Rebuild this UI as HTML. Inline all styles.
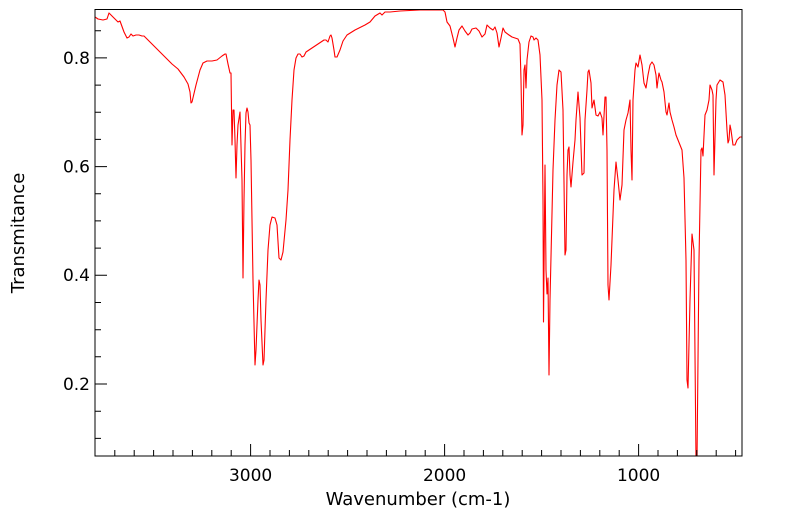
<!DOCTYPE html>
<html><head><style>body{margin:0;background:#fff}svg{display:block}</style></head><body>
<svg width="799" height="516" xmlns="http://www.w3.org/2000/svg" font-family="'DejaVu Sans','Liberation Sans',sans-serif">
<rect width="799" height="516" fill="#fff"/>
<defs><clipPath id="c"><rect x="95" y="9.5" width="647" height="446.5"/></clipPath></defs>
<polyline clip-path="url(#c)" fill="none" stroke="#ff0000" stroke-width="1.1" stroke-linejoin="round" points="95,17 98,19 103,20 107,19 109,13 112,16 118,22 120,21 124,32 127,38 129,37 131,34 133,36 136,35 139,35 142,36 144,36 148,40 155,47 165,57 172,64 178,69 184,77 188,84 190,92 191,103 192,102 196,85 200,70 203,63 207,61 212,61 217,60 222,56 225,54 226,54 228,64 230,73 231,73 232,145 233,110 234,110 235,140 236,178 237,145 238,125 240,112 242,180 243,278 244,200 245,145 246,113 247,108 248,112 249,123 250,125 251,160 253,280 255,365 256,350 258,300 259,280 260,285 261,320 263,365 264,360 266,300 268,250 270,225 272,217 275,218 277,225 279,258 281,260 283,252 286,220 288,190 290,140 292,100 294,70 296,58 298,54 300,54 302,57 304,56 306,52 309,50 312,48 318,44 324,40 326,40 328,42 330,36 331,35 332,38 334,50 335,57 337,57 340,50 343,41 347,35 355,30 365,25 370,22 375,16 380,13 382,15 385,12 390,12 400,11 420,10 437,10 443,10 445,12 447,22 450,26 453,38 455,47 457,38 459,30 462,26 465,31 468,35 470,33 472,29 476,28 479,31 482,37 485,34 487,25 490,28 493,30 495,27 497,33 499,47 501,38 503,28 505,32 509,35 512,37 515,38 518,39 520,44 521,80 522,135 523,125 524,70 525,65 526,88 527,60 529,42 531,36 533,37 534,40 536,38 538,40 540,55 542,100 543,200 543.5,322 544,270 545,165 546,270 547,294 548,278 549,375 550,300 553,170 555,120 557,85 559,70 561,72 563,110 565,255 566,250 567,175 568,150 569,147 570,175 571,187 573,162 575,140 576,120 578,92 580,118 582,175 584,173 585,120 587,90 588,72 589,70 591,83 592,108 594,100 596,115 598,116 600,112 602,118 603,135 605,97 606,97 607,150 608,285 609,300 611,265 614,190 616,162 618,180 620,200 622,185 624,130 626,120 628,113 630,100 631,150 632,180 633,100 635,70 636,63 638,67 640,55 642,65 644,83 646,88 648,75 650,65 652,62 654,65 656,75 657,88 658,80 659,73 661,80 662,82 664,92 666,112 667,115 669,103 670,112 672,120 674,127 676,135 678,140 680,145 682,150 684,178 686,260 687,380 688,388 690,300 692,234 694,250 696,460 697,460 699,260 701,150 702,148 703,156 705,115 707,110 709,100 710,85 712,90 713,95 714,175 716,100 717,85 720,80 723,82 725,95 727,130 728,143 729,140 730,125 731,130 733,145 735,145 737,140 740,137 742,137"/>
<rect x="95" y="9.5" width="647" height="446.5" fill="none" stroke="#000" stroke-width="1"/>
<path stroke="#000" stroke-width="1" fill="none" d="
M114.8 456v-6M134.2 456v-6M153.6 456v-6M173 456v-6M192.4 456v-6M211.8 456v-6M231.2 456v-6M250.6 456v-12M270 456v-6M289.4 456v-6M308.8 456v-6M328.2 456v-6M347.6 456v-6M367 456v-6M386.4 456v-6M405.8 456v-6M425.2 456v-6M444.6 456v-12M464 456v-6M483.4 456v-6M502.8 456v-6M522.2 456v-6M541.6 456v-6M561 456v-6M580.4 456v-6M599.8 456v-6M619.2 456v-6M638.6 456v-12M658 456v-6M677.4 456v-6M696.8 456v-6M716.2 456v-6M735.6 456v-6
M95 438.4h6M95 411.2h6M95 384h12M95 356.8h6M95 329.7h6M95 302.5h6M95 275.3h12M95 248.1h6M95 220.9h6M95 193.8h6M95 166.6h12M95 139.4h6M95 112.2h6M95 85.1h6M95 57.9h12M95 30.7h6"/>
<g font-size="17" fill="#000" text-anchor="middle">
<text x="250.6" y="481">3000</text><text x="444.6" y="481">2000</text><text x="638.6" y="481">1000</text>
<text x="418" y="505" font-size="18">Wavenumber (cm-1)</text>
</g>
<g font-size="17" fill="#000" text-anchor="end">
<text x="90" y="64">0.8</text><text x="90" y="172.5">0.6</text><text x="90" y="281">0.4</text><text x="90" y="390">0.2</text>
</g>
<text transform="translate(24,233) rotate(-90)" font-size="18" text-anchor="middle">Transmitance</text>
</svg>
</body></html>
